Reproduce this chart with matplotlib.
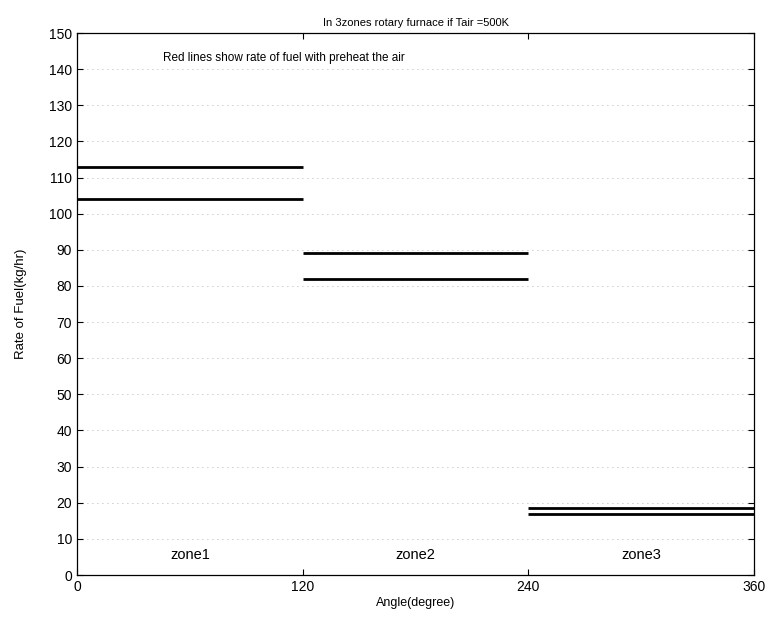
import matplotlib
matplotlib.use('Agg')
import matplotlib.pyplot as plt

# zone boundaries (degrees) and fuel rates (kg/hr)
zone_start = [0, 120, 240]
zone_end = [120, 240, 360]
rate_a = [113, 89, 18.5]
rate_b = [104, 82, 17]
zone_names = ['zone1', 'zone2', 'zone3']
zone_mid = [60, 180, 300]

plt.rcParams['font.family'] = ['Liberation Sans', 'DejaVu Sans']

fig = plt.figure(figsize=(7.68, 6.24), dpi=100)
ax = fig.add_axes([0.1003, 0.0785, 0.8815, 0.8685])

# faint dotted grid like the scanned MATLAB figure
for yv in range(10, 150, 10):
    ax.axhline(yv, color='#9a9a9a', lw=0.6, ls=(0, (1, 5)), zorder=0)

for x0, x1, ya, yb in zip(zone_start, zone_end, rate_a, rate_b):
    ax.hlines([ya, yb], x0, x1, colors='black', lw=2.0, zorder=3)

for name, xm in zip(zone_names, zone_mid):
    ax.text(xm, 5.5, name, ha='center', va='center', fontsize=10.5)

ax.text(45.7, 143, 'Red lines show rate of fuel with preheat the air',
        ha='left', va='center', fontsize=8.5)

ax.set_xlim(0, 360)
ax.set_ylim(0, 150)
ax.set_xticks([0, 120, 240, 360])
ax.set_yticks(range(0, 151, 10))
ax.tick_params(direction='in', top=True, right=True, length=4, labelsize=10)
for s in ax.spines.values():
    s.set_linewidth(0.9)

ax.set_title('In 3zones rotary furnace if Tair =500K', fontsize=8, pad=5)
ax.set_xlabel('Angle(degree)', fontsize=9, labelpad=2)
ax.set_ylabel('Rate of Fuel(kg/hr)', fontsize=9.5, labelpad=16)

fig.savefig('out.png', dpi=100, facecolor='white')
